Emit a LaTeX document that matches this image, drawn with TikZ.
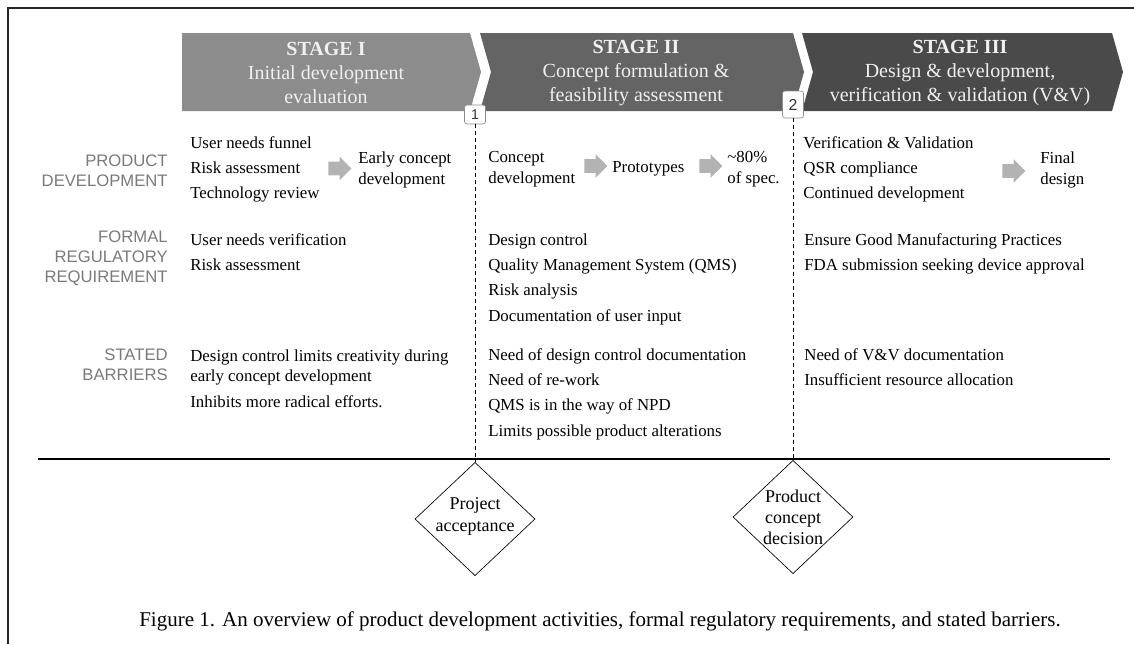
\documentclass[tikz,border=0pt]{standalone}
\usepackage{fontspec}
\setmainfont{Liberation Serif}
\setsansfont{Liberation Sans}
\usepackage{tikz}
\usetikzlibrary{arrows, positioning, shapes.geometric, shapes.arrows}

\definecolor{stageA}{HTML}{8C8C8C}
\definecolor{stageB}{HTML}{646464}
\definecolor{stageC}{HTML}{4A4A4A}
\definecolor{labelgray}{HTML}{7A7A7A}
\definecolor{blockgray}{HTML}{B3B3B3}

\begin{document}
\begin{tikzpicture}[x=0.6pt, y=-0.6pt,
    stagetext/.style={align=center, text=white!94!black, font=\fontsize{12}{14.4}\selectfont},
    rowlabel/.style={anchor=north east, align=right, inner sep=0pt, text=labelgray, font=\sffamily\fontsize{10}{11.8}\selectfont},
    entry/.style={anchor=north west, align=left, inner sep=0pt, font=\fontsize{10.1}{15.2}\selectfont},
    pair/.style={entry, font=\fontsize{10.1}{12.6}\selectfont},
    block/.style={single arrow, fill=blockgray, inner xsep=0pt, inner ysep=3.9pt, minimum height=13.8pt, single arrow head extend=3pt},
    gate/.style={draw=black!45, fill=white, rounded corners=1.5pt, inner sep=0pt, minimum width=12.6pt, text=black!80},
    gateline/.style={dash pattern=on 2.4pt off 1.8pt, line width=0.6pt},
    decision/.style={draw, diamond, inner sep=0pt, minimum width=72pt, minimum height=68pt}]

    \useasboundingbox (0,0) rectangle (1134,644);

    % Frame
    \draw[line width=1pt, black!85] (8,644) -- (8,8) -- (1134,8);

    % Stage chevrons
    \fill[stageA] (182,33) -- (470,33) -- (481,72) -- (470,111) -- (182,111) -- cycle;
    \fill[stageB] (480,33) -- (793,33) -- (804,72) -- (793,111) -- (480,111) -- (491,72) -- cycle;
    \fill[stageC] (802,33) -- (1112,33) -- (1123,72) -- (1112,111) -- (802,111) -- (813,72) -- cycle;

    % Define nodes
    \node (s1) [stagetext] at (326,73) {\textbf{STAGE I}\\Initial development\\evaluation};
    \node (s2) [stagetext] at (636,73) {\textbf{STAGE II}\\Concept formulation \&\\feasibility assessment};
    \node (s3) [stagetext] at (960,73) {\textbf{STAGE III}\\Design \& development,\\verification \& validation (V\&V)};

    \node (g1) [gate, minimum height=11.4pt, font=\sffamily\fontsize{8.5}{9}\selectfont] at (475,114.5) {1};
    \node (g2) [gate, minimum height=16.2pt, font=\sffamily\fontsize{9.5}{10}\selectfont] at (793,104.5) {2};

    \node (pdlabel) [rowlabel] at (168,155) {PRODUCT\\DEVELOPMENT};
    \node (frlabel) [rowlabel] at (168,231) {FORMAL\\REGULATORY\\REQUIREMENT};
    \node (sblabel) [rowlabel] at (168,349) {STATED\\BARRIERS};

    % Stage I
    \node (pd1) [entry] at (190,136) {User needs funnel\\Risk assessment\\Technology review};
    \node (pd1arrow) [block] at (336.5,168.5) {};
    \node (pd1out) [pair] at (358,151) {Early concept\\development};
    \node (fr1) [entry] at (190,233) {User needs verification\\Risk assessment};
    \node (sb1) [entry, font=\fontsize{10.1}{12}\selectfont] at (190,349) {Design control limits creativity during\\early concept development\\[3.6pt]Inhibits more radical efforts.};

    % Stage II
    \node (pd2) [pair] at (488,151) {Concept\\development};
    \node (pd2arrow) [block] at (592.5,166) {};
    \node (proto) [entry] at (612,161) {Prototypes};
    \node (protoarrow) [block] at (707.5,166) {};
    \node (pd2out) [pair] at (727,151) {\textasciitilde80\%\\of spec.};
    \node (fr2) [entry] at (488,233) {Design control\\Quality Management System (QMS)\\Risk analysis\\Documentation of user input};
    \node (sb2) [entry] at (488,348) {Need of design control documentation\\Need of re-work\\QMS is in the way of NPD\\Limits possible product alterations};

    % Stage III
    \node (pd3) [entry] at (803,136) {Verification \& Validation\\QSR compliance\\Continued development};
    \node (pd3arrow) [block] at (1010.5,171) {};
    \node (pd3out) [pair] at (1040,151) {Final\\design};
    \node (fr3) [entry] at (804,233) {Ensure Good Manufacturing Practices\\FDA submission seeking device approval};
    \node (sb3) [entry] at (804,348) {Need of V\&V documentation\\Insufficient resource allocation};

    % Decisions
    \node (d1) [decision] at (475,519) {};
    \node (d1text) [align=center, font=\fontsize{10.8}{13.2}\selectfont] at (475,516) {Project\\acceptance};
    \node (d2) [decision] at (793,517) {};
    \node (d2text) [align=center, font=\fontsize{10.8}{12.6}\selectfont] at (793,517) {Product\\concept\\decision};

    % Draw lines
    \coordinate (base-w) at (38,459);
    \coordinate (base-e) at (1110,459);
    \draw[line width=0.7pt] (base-w) -- (base-e);
    \draw[gateline] (g1) -- (d1);
    \draw[gateline] (g2) -- (d2);

    \node (caption) [font=\fontsize{12.6}{14}\selectfont] at (600,621) {Figure 1. An overview of product development activities, formal regulatory requirements, and stated barriers.};

\end{tikzpicture}
\end{document}
